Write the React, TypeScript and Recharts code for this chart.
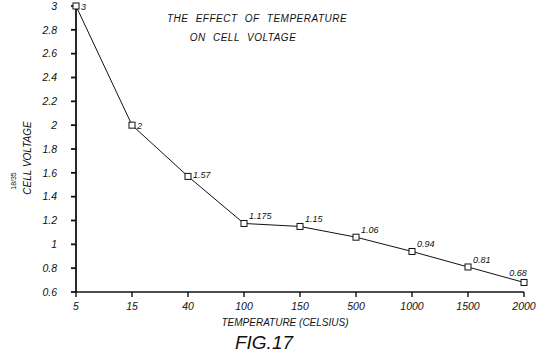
import { LineChart, Line, XAxis, YAxis, LabelList } from "recharts";

// Cell voltage measured at each test temperature
const temperatures = ["5", "15", "40", "100", "150", "500", "1000", "1500", "2000"];
const cellVoltage = [3, 2, 1.57, 1.175, 1.15, 1.06, 0.94, 0.81, 0.68];
const voltageTicks = [0.6, 0.8, 1, 1.2, 1.4, 1.6, 1.8, 2, 2.2, 2.4, 2.6, 2.8, 3];

const data = temperatures.map((t, i) => ({ temp: t, voltage: cellVoltage[i] }));

const FONT = '"Liberation Sans", Arial, sans-serif';
const INK = "#111";

function SquareDot(props: any) {
  const { cx, cy, index } = props;
  return (
    <rect
      key={`dot-${index}`}
      x={cx - 3}
      y={cy - 3}
      width={6}
      height={6}
      fill="#fff"
      stroke={INK}
      strokeWidth={1}
    />
  );
}

// values sit beside the steep points, above-right on the flatter part
function PointLabel(props: any) {
  const { x, y, value, index } = props;
  const last = index === cellVoltage.length - 1;
  const dy = index < 2 ? 4 : index === 2 ? 2 : -4;
  return (
    <text
      x={last ? x - 6 : x + 5}
      y={last ? y - 6 : y + dy}
      textAnchor={last ? "middle" : "start"}
      fontFamily={FONT}
      fontStyle="italic"
      fontSize={9}
      fill={INK}
    >
      {value}
    </text>
  );
}

export default function App() {
  return (
    <div style={{ position: "absolute", left: 0, top: 0, width: 551, height: 360, background: "#fff" }}>
      <LineChart
        width={551}
        height={360}
        data={data}
        margin={{ top: 6, right: 27, left: 36, bottom: 38 }}
        style={{ overflow: "visible" }}
      >
        <XAxis
          dataKey="temp"
          height={30}
          stroke={INK}
          strokeWidth={1.4}
          tickSize={5}
          tickMargin={6}
          tick={{ fill: INK, fontFamily: FONT, fontStyle: "italic", fontSize: 10.5 }}
        />
        <YAxis
          width={40}
          type="number"
          domain={[0.6, 3]}
          ticks={voltageTicks}
          interval={0}
          stroke={INK}
          strokeWidth={1.8}
          tickSize={5}
          tickMargin={14}
          tick={{ fill: INK, fontFamily: FONT, fontStyle: "italic", fontSize: 10.5 }}
        />
        <Line
          dataKey="voltage"
          stroke={INK}
          strokeWidth={1}
          dot={SquareDot}
          activeDot={false}
          isAnimationActive={false}
        >
          <LabelList dataKey="voltage" content={PointLabel} />
        </Line>
      </LineChart>
      <svg
        width={551}
        height={360}
        style={{ position: "absolute", left: 0, top: 0, pointerEvents: "none" }}
        fontFamily={FONT}
        fontStyle="italic"
        fill={INK}
      >
        <text x={257} y={22} textAnchor="middle" fontSize={10} letterSpacing={0.5} wordSpacing={4}>
          THE EFFECT OF TEMPERATURE
        </text>
        <text x={243} y={41} textAnchor="middle" fontSize={10} letterSpacing={0.5} wordSpacing={4}>
          ON CELL VOLTAGE
        </text>
        <text x={285} y={326} textAnchor="middle" fontSize={10}>
          TEMPERATURE (CELSIUS)
        </text>
        <text x={264} y={349} textAnchor="middle" fontSize={19}>
          FIG.17
        </text>
        <text x={31} y={158} textAnchor="middle" fontSize={10} transform="rotate(-90 31 158)">
          CELL VOLTAGE
        </text>
        <text
          x={16}
          y={181}
          textAnchor="middle"
          fontSize={7}
          fontStyle="normal"
          transform="rotate(-90 16 181)"
        >
          18/35
        </text>
      </svg>
    </div>
  );
}
